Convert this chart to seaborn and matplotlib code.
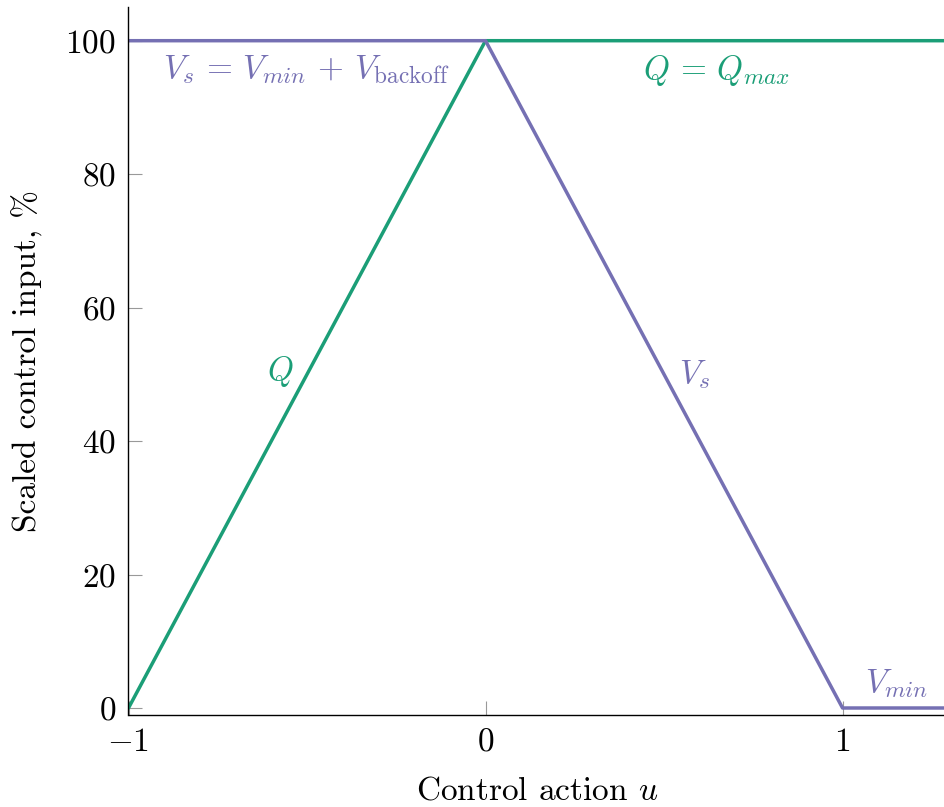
import numpy as np
import pandas as pd
import matplotlib
matplotlib.use("Agg")
import matplotlib.pyplot as plt
import seaborn as sns

# Data
u_q = [-1.0, 0.0, 1.3]
q_vals = [0.0, 100.0, 100.0]
u_v = [-1.0, 0.0, 1.0, 1.3]
v_vals = [100.0, 100.0, 0.0, 0.0]
x_ticks = [-1, 0, 1]
x_tick_labels = [r"$-1$", r"$0$", r"$1$"]
y_ticks = [0, 20, 40, 60, 80, 100]
y_tick_labels = [r"$0$", r"$20$", r"$40$", r"$60$", r"$80$", r"$100$"]

GREEN = "#1b9e77"
PURPLE = "#7570b3"

sns.set_theme(style="white")
plt.rcParams["font.family"] = ["cmr10", "DejaVu Serif"]
plt.rcParams["mathtext.fontset"] = "cm"
plt.rcParams["axes.unicode_minus"] = False
plt.rcParams["text.color"] = "black"
plt.rcParams["axes.labelcolor"] = "black"
plt.rcParams["xtick.labelcolor"] = "black"
plt.rcParams["ytick.labelcolor"] = "black"
FS = 24

fig = plt.figure(figsize=(9.45, 8.07), dpi=100)
ax = fig.add_axes([128.5 / 945, (807 - 715) / 807, (945 - 128.5) / 945, (715 - 7) / 807])

df_q = pd.DataFrame({"u": u_q, "val": q_vals})
df_v = pd.DataFrame({"u": u_v, "val": v_vals})
sns.lineplot(data=df_q, x="u", y="val", color=GREEN, lw=2.5, estimator=None, sort=False, ax=ax)
sns.lineplot(data=df_v, x="u", y="val", color=PURPLE, lw=2.5, estimator=None, sort=False, ax=ax)

ax.set_xlim(-1.0, 1.287)
ax.set_ylim(-1.05, 105.05)

ax.set_xticks(x_ticks)
ax.set_xticklabels(x_tick_labels, fontsize=FS)
ax.set_yticks(y_ticks)
ax.set_yticklabels(y_tick_labels, fontsize=FS)
ax.tick_params(direction="in", length=10, width=0.8, color="#999999", pad=9,
               bottom=True, left=True, labelcolor="black")

for s in ["top", "right"]:
    ax.spines[s].set_visible(False)
for s in ["left", "bottom"]:
    ax.spines[s].set_color("black")
    ax.spines[s].set_linewidth(1.0)

ax.set_xlabel(r"Control action $u$", fontsize=FS, labelpad=14, color="black")
ax.set_ylabel("Scaled control input, %", fontsize=FS, labelpad=16, color="black")

ax.text(-0.5, 95.6, r"$V_s\,=\,V_{min}\,+\,V_{\mathrm{backoff}}$", color=PURPLE,
        fontsize=FS, ha="center", va="center")
ax.text(0.646, 95.6, r"$Q\,=\,Q_{max}$", color=GREEN, fontsize=FS, ha="center", va="center")
ax.text(-0.576, 50.5, r"$Q$", color=GREEN, fontsize=FS, ha="center", va="center")
ax.text(0.585, 50.0, r"$V_s$", color=PURPLE, fontsize=FS, ha="center", va="center")
ax.text(1.152, 3.6, r"$V_{min}$", color=PURPLE, fontsize=FS, ha="center", va="center")

fig.savefig("out.png", dpi=100)
